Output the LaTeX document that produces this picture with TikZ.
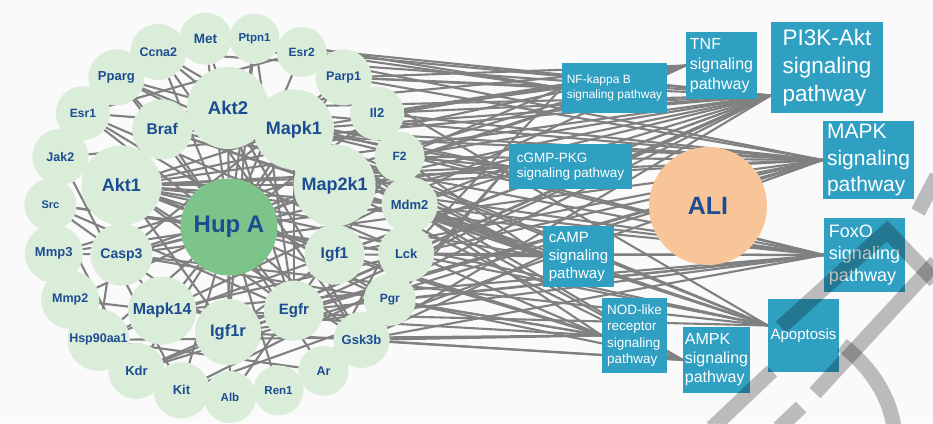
\documentclass[tikz,border=0pt]{standalone}
\usepackage{fontspec}
\setmainfont{Liberation Sans}
\pgfdeclarelayer{background}
\pgfsetlayers{background,main}

\definecolor{genegreen}{RGB}{218,237,217}
\definecolor{drugfill}{RGB}{124,196,138}
\definecolor{alifill}{RGB}{248,197,152}
\definecolor{pathblue}{RGB}{47,159,194}
\definecolor{geneblue}{RGB}{28,76,145}
\definecolor{linkgray}{RGB}{128,128,128}

\tikzset{
  gene/.style 2 args={circle, fill=genegreen, minimum size=2*#1, inner sep=0pt,
    text=geneblue, font=\bfseries\fontsize{#2}{#2}\selectfont},
  pathbox/.style 2 args={rectangle, fill=pathblue, text=white, align=left,
    inner sep=1pt, minimum width=#1, minimum height=#2},
  link/.style={draw=linkgray, line width=2.1pt},
  stamp/.style={line width=15, draw=black, draw opacity=.25},
}

\begin{document}
\begin{tikzpicture}[x=1pt, y=-1pt]
    \useasboundingbox (0,0) rectangle (933,423);

    % Drug and disease
    \node[gene={48.5}{24}, fill=drugfill] (hupa) at (229,227) {Hup A};
    \node[circle, fill=alifill, minimum size=118, text=geneblue,
      font=\bfseries\fontsize{25}{25}\selectfont] (ali) at (708,206) {ALI};

    % Inner ring of targets
    \foreach \n/\t/\a/\r/\s in {akt2/Akt2/90/41/18.5, mapk1/Mapk1/54/40/18,
        map2k1/Map2k1/18/41/18, igf1/Igf1/-18/30/15.5, egfr/Egfr/-54/30/15,
        igf1r/Igf1r/-90/33/16.5, mapk14/Mapk14/-126/34/16, casp3/Casp3/-162/31/14,
        akt1/Akt1/162/40/18, braf/Braf/126/30/15.5}
      \node[gene={\r}{\s}] (\n) at ({228+112*cos(\a)},{220-112*sin(\a)}) {\t};

    % Outer ring of targets
    \foreach \n/\t/\k/\r/\s in {ptpn1/Ptpn1/0/25/11.5, esr2/Esr2/1/25/12,
        parp1/Parp1/2/28/12.5, il2/Il2/3/27/13, f2/F2/4/25/12, mdm2/Mdm2/5/28/13,
        lck/Lck/6/28/13, pgr/Pgr/7/26/12, gsk3b/Gsk3b/8/28/13, ar/Ar/9/25/12.5,
        ren1/Ren1/10/25/11.5, alb/Alb/11/26/11.5, kit/Kit/12/28/13, kdr/Kdr/13/28/13,
        hsp/Hsp90aa1/14/31/12.5, mmp2/Mmp2/15/29/12.5, mmp3/Mmp3/16/29/13,
        src/Src/17/26/11, jak2/Jak2/18/28/12.5, esr1/Esr1/19/27/12,
        pparg/Pparg/20/28/13, ccna2/Ccna2/21/28/12.5, met/Met/22/26/13.5}
      \node[gene={\r}{\s}] (\n) at ({230+180*cos(82.17-15.652*\k)},{217-180*sin(82.17-15.652*\k)}) {\t};

    % Pathways
    \node[pathbox={105}{50}, font=\fontsize{12}{15}\selectfont] (nfkb) at (614.5,88) {NF-kappa B\\signaling pathway};
    \node[pathbox={71}{67}, font=\fontsize{16}{20}\selectfont] (tnf) at (721.5,65.5) {TNF\\signaling\\pathway};
    \node[pathbox={112}{91}, font=\fontsize{22.5}{28}\selectfont] (pi3k) at (827,67.5) {PI3K-Akt\\signaling\\pathway};
    \node[pathbox={91}{78}, font=\fontsize{21}{26.5}\selectfont] (mapk) at (868.5,160) {MAPK\\signaling\\pathway};
    \node[pathbox={123}{45}, font=\fontsize{13.5}{15.5}\selectfont] (cgmp) at (570.5,166.5) {cGMP-PKG\\signaling pathway};
    \node[pathbox={71}{61}, font=\fontsize{15}{18}\selectfont] (camp) at (578.5,256.5) {cAMP\\signaling\\pathway};
    \node[pathbox={81}{74}, font=\fontsize{18}{22}\selectfont] (foxo) at (864.5,255) {FoxO\\signaling\\pathway};
    \node[pathbox={65}{75}, font=\fontsize{13.5}{16.5}\selectfont] (nod) at (634.5,335.5) {NOD-like\\receptor\\signaling\\pathway};
    \node[pathbox={67}{66}, font=\fontsize{16}{19}\selectfont] (ampk) at (716.5,360) {AMPK\\signaling\\pathway};
    \node[pathbox={71}{73}, font=\fontsize{15}{18}\selectfont] (apop) at (803.5,335.5) {Apoptosis};

    % Links
    \begin{pgfonlayer}{background}
      \fill[white!98!black] (0,0) rectangle (933,423);
      \foreach \g in {akt1,akt2,mapk1,map2k1,igf1,egfr,igf1r,mapk14,casp3,braf,
          ptpn1,esr2,parp1,il2,f2,mdm2,lck,pgr,gsk3b,ar,ren1,alb,kit,kdr,hsp,
          mmp2,mmp3,src,jak2,esr1,pparg,ccna2,met}
        \draw[link] (hupa) -- (\g);
      \foreach \a/\b in {akt1/mapk1, akt1/egfr, akt1/gsk3b, akt1/mdm2, akt1/casp3,
          akt1/igf1r, akt2/braf, akt2/gsk3b, akt2/ccna2, akt2/pparg, mapk1/map2k1,
          mapk1/egfr, mapk1/esr1, mapk1/parp1, map2k1/braf, map2k1/akt1, egfr/src,
          egfr/met, egfr/kdr, egfr/ptpn1, igf1/igf1r, igf1r/ptpn1, igf1r/src,
          mapk14/casp3, mapk14/mmp2, mapk14/hsp, casp3/parp1, casp3/mmp3, hsp/akt1,
          hsp/kit, kdr/src, kit/jak2, jak2/src, esr1/esr2, esr1/pgr, ar/hsp,
          alb/f2, lck/src, mdm2/ar, ccna2/gsk3b, ptpn1/esr2, braf/pparg}
        \draw[link] (\a) -- (\b);
      \foreach \g in {akt1,akt2,mapk1,map2k1,igf1,igf1r,egfr,kdr,kit,met,jak2,
          gsk3b,hsp,il2,f2,mdm2,ccna2,casp3,lck,parp1,esr2}
        \draw[link] (\g) -- ([yshift=-28pt]pi3k.west);
      \foreach \g in {akt1,akt2,mapk1,map2k1,mapk14,braf,egfr,igf1,igf1r,kdr,kit,met,
          casp3,f2,il2,parp1}
        \draw[link] (\g) -- (mapk.west);
      \foreach \g in {akt1,akt2,mapk1,map2k1,mapk14,braf,egfr,igf1,igf1r,gsk3b,mdm2,
          lck,pgr}
        \draw[link] (\g) -- (foxo.west);
      \foreach \g in {akt1,akt2,mapk1,map2k1,casp3,parp1,mapk14,mdm2,lck}
        \draw[link] (\g) -- ([yshift=10pt]apop.west);
      \foreach \g in {akt1,akt2,mapk1,map2k1,mapk14,casp3,mmp3,il2,parp1}
        \draw[link] (\g) -- (tnf.west);
      \foreach \g in {ptpn1,esr2,lck,parp1,il2,f2}
        \draw[link] (\g) -- (nfkb.west);
      \foreach \g in {akt1,akt2,mapk1,map2k1,gsk3b,mdm2,f2,pgr}
        \draw[link] (\g) -- (cgmp.west);
      \foreach \g in {akt1,akt2,mapk1,map2k1,braf,f2,pparg,mdm2,lck,gsk3b}
        \draw[link] (\g) -- (camp.west);
      \foreach \g in {mapk1,mapk14,casp3,hsp,esr1,gsk3b,pgr}
        \draw[link] (\g) -- (nod.west);
      \foreach \g in {akt1,akt2,igf1,igf1r,pparg,ccna2,gsk3b,pgr}
        \draw[link] (\g) -- (ampk.west);
    \end{pgfonlayer}

    % Watermark
    \draw[stamp] (712,428) -- (772,371);
    \draw[stamp] (779,428) -- (801,407);
    \draw[stamp] (781,327) -- (887,231) -- (935,281);
    \draw[stamp] (936,262) -- (815,393);
    \draw[stamp] (937,176) -- (918,212);
    \draw[stamp] (842,345) .. controls (872,368) and (890,398) .. (894,428);
\end{tikzpicture}
\end{document}
